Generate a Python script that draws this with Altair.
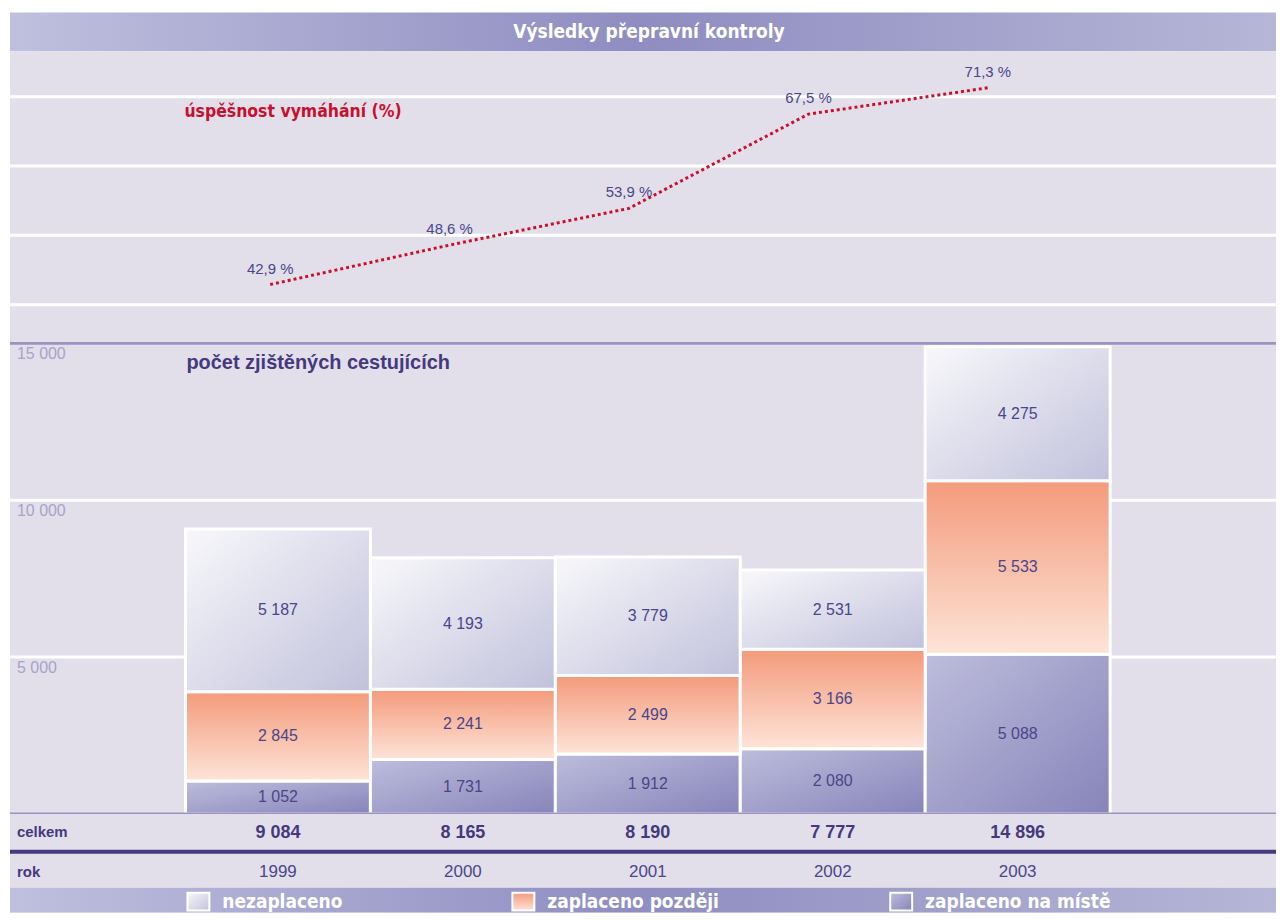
import altair as alt
import pandas as pd

# ---------------- data ----------------
years = [1999, 2000, 2001, 2002, 2003]
nezaplaceno = [5187, 4193, 3779, 2531, 4275]
zaplaceno_pozdeji = [2845, 2241, 2499, 3166, 5533]
zaplaceno_na_miste = [1052, 1731, 1912, 2080, 5088]
uspesnost = [42.9, 48.6, 53.9, 67.5, 71.3]
pocet_ticks = [5000, 10000, 15000]
pct_grid = [40, 50, 60, 70]
categories = ["zaplaceno na místě", "zaplaceno později", "nezaplaceno"]  # bottom -> top
legend_order = ["nezaplaceno", "zaplaceno později", "zaplaceno na místě"]
title_text = "Výsledky přepravní kontroly"
line_heading = "úspěšnost vymáhání (%)"
bar_heading = "počet zjištěných cestujících"
row_total_label = "celkem"
row_year_label = "rok"

# ---------------- style ----------------
W = 1270
BG = "#e2dfeb"
NUM = "#4b4589"
DARK = "#45397e"
RED = "#c8102e"
PURPLE_LINE = "#9b94c2"
AXIS_TXT = "#a7a3c9"
SANS = "Liberation Sans, Arial, sans-serif"
COND = "Liberation Sans Narrow, DejaVu Sans Condensed, Roboto, sans-serif"

g_nez = {"gradient": "linear", "x1": 0, "y1": 0, "x2": 1, "y2": 1,
         "stops": [{"offset": 0, "color": "#f8f8fb"}, {"offset": 1, "color": "#c1c1dc"}]}
g_poz = {"gradient": "linear", "x1": 0, "y1": 0, "x2": 0, "y2": 1,
         "stops": [{"offset": 0, "color": "#f49a7b"}, {"offset": 1, "color": "#fde4d8"}]}
g_mis = {"gradient": "linear", "x1": 0, "y1": 0, "x2": 1, "y2": 1,
         "stops": [{"offset": 0, "color": "#bdbddc"}, {"offset": 1, "color": "#8784ba"}]}
g_band = {"gradient": "linear", "x1": 0, "y1": 0, "x2": 1, "y2": 0,
          "stops": [{"offset": 0, "color": "#bfbfde"}, {"offset": 0.5, "color": "#8f8dc1"},
                    {"offset": 1, "color": "#b6b6d7"}]}
grads = {"nezaplaceno": g_nez, "zaplaceno později": g_poz, "zaplaceno na místě": g_mis}

# ---------------- tables ----------------
series = [zaplaceno_na_miste, zaplaceno_pozdeji, nezaplaceno]
rows = []
for i, yr in enumerate(years):
    for k, (cat, s) in enumerate(zip(categories, series)):
        rows.append({"year": yr, "cat": cat, "order": k, "value": s[i]})
df_long = pd.DataFrame(rows)
df_line = pd.DataFrame({"year": years, "pct": uspesnost})
dummy = alt.Data(values=[{}])

# ---------------- scales ----------------
x_bar = alt.Scale(domain=[1997.551, 2004.397], nice=False, zero=False)
x_line = alt.Scale(domain=[1997.55, 2004.606], nice=False, zero=False)
y_line = alt.Scale(domain=[34.41, 76.57], nice=False, zero=False)
y_bar = alt.Scale(domain=[0, 15000], nice=False, zero=False)

# ---------------- title band ----------------
H_TITLE = 42
title_bg = alt.Chart(dummy).mark_rect(fill=g_band).encode(
    x=alt.value(0), x2=alt.value(W), y=alt.value(3), y2=alt.value(H_TITLE))
title_tx = alt.Chart(dummy).mark_text(
    text=title_text, font=COND, fontWeight="bold", fontSize=19, color="white",
    align="center", baseline="alphabetic").encode(x=alt.value(W / 2 + 6), y=alt.value(29))
title_panel = alt.layer(title_bg, title_tx).properties(
    width=W, height=H_TITLE, view=alt.ViewBackground(fill="white", stroke=None))

# ---------------- line panel ----------------
H_LINE = 293
grid_l = alt.Chart(pd.DataFrame({"g": pct_grid})).mark_rule(color="white", strokeWidth=3).encode(
    y=alt.Y("g:Q", scale=y_line, axis=None))
line = alt.Chart(df_line).mark_line(color=RED, strokeWidth=3, strokeDash=[3, 3]).encode(
    x=alt.X("year:Q", scale=x_line, axis=None), y=alt.Y("pct:Q", scale=y_line, axis=None))
line_lbl = alt.Chart(df_line).transform_calculate(
    lbl="replace(format(datum.pct, '.1f'), '.', ',') + ' %'"
).mark_text(dy=-16, fontSize=15, color=NUM, font=SANS, baseline="middle").encode(
    x=alt.X("year:Q", scale=x_line, axis=None), y=alt.Y("pct:Q", scale=y_line, axis=None),
    text="lbl:N")
line_head = alt.Chart(dummy).mark_text(
    text=line_heading, font=COND, fontWeight="bold", fontSize=17.5, color=RED,
    align="left", baseline="middle").encode(x=alt.value(175), y=alt.value(61))
line_panel = alt.layer(grid_l, line, line_lbl, line_head).properties(width=W, height=H_LINE)

# ---------------- bar panel ----------------
H_BAR = 472
base = alt.Chart(df_long).transform_stack(
    stack="value", groupby=["year"], as_=["y0", "y1"],
    sort=[alt.SortField("order", "ascending")]
).transform_calculate(
    xa="datum.year - 0.5", xb="datum.year + 0.5", ym="(datum.y0 + datum.y1) / 2",
    lbl="replace(format(datum.value, ','), ',', ' ')")

tick_df = pd.DataFrame({"v": pocet_ticks})
grid_b = alt.Chart(tick_df).transform_filter(f"datum.v < {max(pocet_ticks)}").mark_rule(
    color="white", strokeWidth=3).encode(y=alt.Y("v:Q", scale=y_bar, axis=None))
tick_lbl = alt.Chart(tick_df).transform_calculate(
    lbl="replace(format(datum.v, ','), ',', ' ')"
).mark_text(align="left", baseline="top", dy=3, fontSize=16, color=AXIS_TXT, font=SANS).encode(
    x=alt.value(7), y=alt.Y("v:Q", scale=y_bar, axis=None), text="lbl:N")

bar_layers = []
for cat in categories:
    bar_layers.append(
        base.transform_filter(alt.datum.cat == cat).mark_rect(
            fill=grads[cat], stroke="white", strokeWidth=3).encode(
            x=alt.X("xa:Q", scale=x_bar, axis=None), x2="xb:Q",
            y=alt.Y("y0:Q", scale=y_bar, axis=None), y2="y1:Q"))
seg_lbl = base.mark_text(fontSize=16, color=NUM, font=SANS, baseline="middle").encode(
    x=alt.X("year:Q", scale=x_bar, axis=None), y=alt.Y("ym:Q", scale=y_bar, axis=None),
    text="lbl:N")
edge_df = pd.DataFrame({"v": [0, max(pocet_ticks)]})
edges = alt.Chart(edge_df).mark_rule(color=PURPLE_LINE, strokeWidth=3).encode(
    y=alt.Y("v:Q", scale=y_bar, axis=None))
bar_head = alt.Chart(dummy).mark_text(
    text=bar_heading, font=SANS, fontWeight="bold", fontSize=20, color=DARK,
    align="left", baseline="middle").encode(x=alt.value(177), y=alt.value(20))
bar_panel = alt.layer(grid_b, tick_lbl, *bar_layers, seg_lbl, edges, bar_head).properties(
    width=W, height=H_BAR)

# ---------------- totals row ----------------
H_TOT = 36
totals = alt.Chart(df_long).transform_aggregate(
    total="sum(value)", groupby=["year"]
).transform_calculate(
    lbl="replace(format(datum.total, ','), ',', ' ')"
).mark_text(fontSize=18, fontWeight="bold", color=DARK, font=SANS, baseline="middle").encode(
    x=alt.X("year:Q", scale=x_bar, axis=None), y=alt.value(19), text="lbl:N")
tot_head = alt.Chart(dummy).mark_text(
    text=row_total_label, font=SANS, fontWeight="bold", fontSize=15, color=DARK,
    align="left", baseline="middle").encode(x=alt.value(7), y=alt.value(18))
tot_panel = alt.layer(totals, tot_head).properties(width=W, height=H_TOT)

# ---------------- year row ----------------
H_YR = 38
dark_rule = alt.Chart(dummy).mark_rule(color="#46397f", strokeWidth=4).encode(
    x=alt.value(0), x2=alt.value(W), y=alt.value(2))
yr_txt = alt.Chart(df_line).mark_text(fontSize=17, color=NUM, font=SANS, baseline="middle").encode(
    x=alt.X("year:Q", scale=x_bar, axis=None), y=alt.value(22), text="year:N")
yr_head = alt.Chart(dummy).mark_text(
    text=row_year_label, font=SANS, fontWeight="bold", fontSize=15, color=DARK,
    align="left", baseline="middle").encode(x=alt.value(7), y=alt.value(22))
yr_panel = alt.layer(dark_rule, yr_txt, yr_head).properties(width=W, height=H_YR)

# ---------------- legend band ----------------
H_LEG = 25
leg_bg = alt.Chart(dummy).mark_rect(fill=g_band).encode(
    x=alt.value(0), x2=alt.value(W), y=alt.value(0), y2=alt.value(H_LEG))
leg_layers = [leg_bg]
sw_x = [178, 504, 883]
for name, sx in zip(legend_order, sw_x):
    leg_layers.append(alt.Chart(dummy).mark_rect(fill=grads[name], stroke="white", strokeWidth=2).encode(
        x=alt.value(sx), x2=alt.value(sx + 22), y=alt.value(5), y2=alt.value(23)))
    leg_layers.append(alt.Chart(dummy).mark_text(
        text=name, font=COND, fontWeight="bold", fontSize=19, color="white",
        align="left", baseline="alphabetic").encode(x=alt.value(sx + 35), y=alt.value(20)))
leg_panel = alt.layer(*leg_layers).properties(width=W, height=H_LEG)

chart = alt.vconcat(
    title_panel, line_panel, bar_panel, tot_panel, yr_panel, leg_panel,
    spacing=0, bounds="flush"
).properties(
    padding={"left": 0, "right": 0, "top": 0, "bottom": 0}, background="white"
).configure_view(fill=BG, stroke=None)

chart.save("out.html", embed_options={"renderer": "svg", "actions": False})
